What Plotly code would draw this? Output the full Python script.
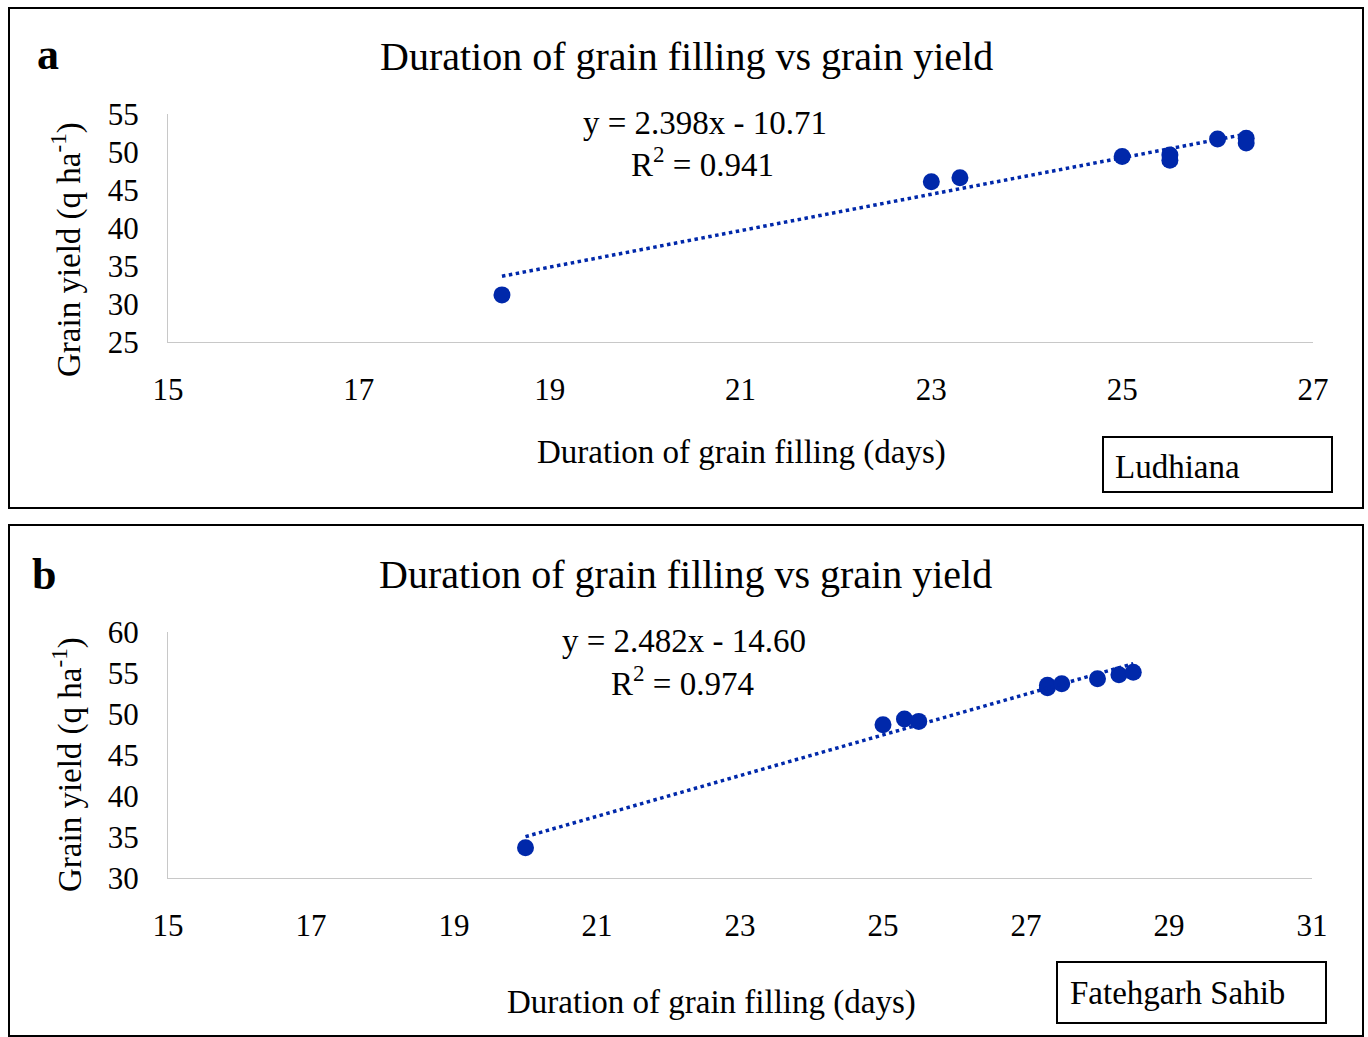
import plotly.graph_objects as go
import numpy as np

# Panel a: Ludhiana
days_a = [18.5, 23.0, 23.3, 25.0, 25.5, 25.5, 26.0, 26.3, 26.3]
yield_a = [31.2, 46.1, 46.6, 49.4, 49.6, 48.9, 51.7, 51.8, 51.2]
slope_a, intercept_a = 2.398, -10.71
r2_a = 0.941

# Panel b: Fatehgarh Sahib
days_b = [20.0, 25.0, 25.3, 25.5, 27.3, 27.3, 27.5, 28.0, 28.3, 28.5]
yield_b = [33.7, 48.7, 49.4, 49.1, 53.5, 53.2, 53.7, 54.3, 54.8, 55.1]
slope_b, intercept_b = 2.482, -14.60
r2_b = 0.974

W, H = 1368, 1037
FONT = "Liberation Serif"
BLUE = "#0028AA"

def px(x):
    return x / W

def py(y):
    return 1 - y / H

fig = go.Figure()

for i, (dx, dy, m, c) in enumerate([(days_a, yield_a, slope_a, intercept_a),
                                      (days_b, yield_b, slope_b, intercept_b)]):
    xa = "x" if i == 0 else "x2"
    ya = "y" if i == 0 else "y2"
    fig.add_trace(go.Scatter(x=dx, y=dy, mode="markers", xaxis=xa, yaxis=ya,
                             marker=dict(color=BLUE, size=17), showlegend=False))
    xl = np.array([min(dx), max(dx)])
    fig.add_trace(go.Scatter(x=xl, y=m * xl + c, mode="lines", xaxis=xa, yaxis=ya,
                             line=dict(color=BLUE, width=3.5, dash="dot"), showlegend=False))

axis_common = dict(showgrid=False, zeroline=False, showline=True, linecolor="#c8c8c8",
                   linewidth=1, ticks="outside", tickcolor="rgba(0,0,0,0)", automargin=False,
                   tickfont=dict(family=FONT, size=31, color="#000"))

fig.update_layout(
    template="none",
    width=W, height=H, margin=dict(l=0, r=0, t=0, b=0, autoexpand=False),
    paper_bgcolor="white", plot_bgcolor="white",
    xaxis=dict(domain=[px(168), px(1313)], range=[15, 27], tick0=15, dtick=2, anchor="y",
               ticklen=20, **axis_common),
    yaxis=dict(domain=[py(342), py(114)], range=[25, 55], tick0=25, dtick=5, anchor="x",
               ticklen=22, **axis_common),
    xaxis2=dict(domain=[px(168), px(1312)], range=[15, 31], tick0=15, dtick=2, anchor="y2",
                ticklen=20, **axis_common),
    yaxis2=dict(domain=[py(878), py(632)], range=[30, 60], tick0=30, dtick=5, anchor="x2",
                ticklen=22, **axis_common),
)

shapes = [
    dict(type="rect", xref="paper", yref="paper", x0=px(9), x1=px(1363), y0=py(508), y1=py(8),
         line=dict(color="black", width=2)),
    dict(type="rect", xref="paper", yref="paper", x0=px(9), x1=px(1363), y0=py(1036), y1=py(525),
         line=dict(color="black", width=2)),
    dict(type="rect", xref="paper", yref="paper", x0=px(1103), x1=px(1332), y0=py(492), y1=py(437),
         line=dict(color="black", width=2)),
    dict(type="rect", xref="paper", yref="paper", x0=px(1057), x1=px(1326), y0=py(1023), y1=py(962),
         line=dict(color="black", width=2)),
]
fig.update_layout(shapes=shapes)

def ann(x, y, text, size, xanchor="center", bold=False, angle=0):
    t = f"<b>{text}</b>" if bold else text
    return dict(x=px(x), y=py(y), xref="paper", yref="paper", text=t, showarrow=False,
                xanchor=xanchor, yanchor="middle", textangle=angle,
                font=dict(family=FONT, size=size, color="black"))

annotations = [
    ann(48, 55, "a", 44, bold=True),
    ann(686, 56, "Duration of grain filling vs grain yield", 40),
    ann(705, 123, f"y = {slope_a:.3f}x - {abs(intercept_a):.2f}", 33),
    ann(703, 162, f"R<sup>2</sup> = {r2_a:.3f}", 33),
    ann(741, 452, "Duration of grain filling (days)", 33),
    ann(67, 250, "Grain yield (q ha<sup>-1</sup>)", 33, angle=-90),
    ann(1113, 467, "Ludhiana", 33, xanchor="left"),

    ann(44, 574, "b", 44, bold=True),
    ann(685, 574, "Duration of grain filling vs grain yield", 40),
    ann(684, 641, f"y = {slope_b:.3f}x - {abs(intercept_b):.2f}", 33),
    ann(682, 681, f"R<sup>2</sup> = {r2_b:.3f}", 33),
    ann(711, 1002, "Duration of grain filling (days)", 33),
    ann(67, 765, "Grain yield (q ha<sup>-1</sup>)", 33, angle=-90),
    ann(1068, 993, "Fatehgarh Sahib", 33, xanchor="left"),
]
fig.update_layout(annotations=annotations)

fig.write_html("out.html", config={"displayModeBar": False},
               post_script="document.body.style.margin='0';document.body.style.overflow='hidden';")
